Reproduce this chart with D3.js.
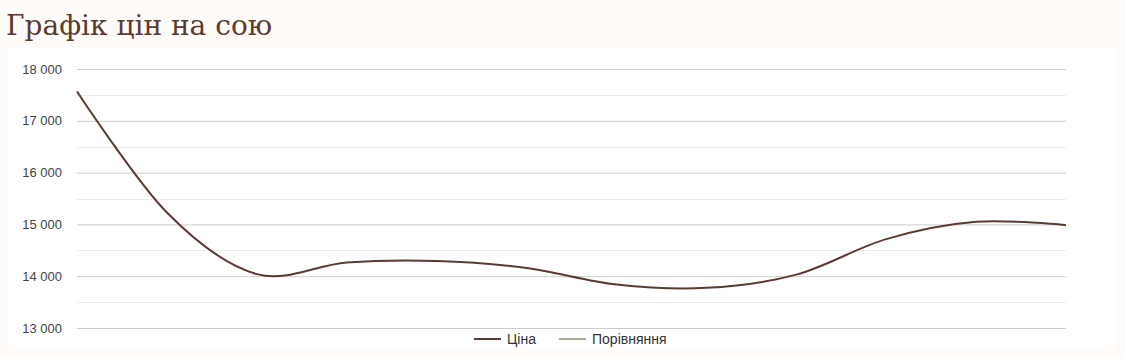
<!DOCTYPE html>
<html>
<head>
<meta charset="utf-8">
<script src="https://cdn.jsdelivr.net/npm/d3@7"></script>
<style>
  body { margin: 0; background: #fffbf8; }
  svg { display: block; }
</style>
</head>
<body>
<svg id="chart"></svg>
<script>
// monthly prices
const months = ["01", "02", "03", "04", "05", "06", "07", "08", "09", "10", "11", "12"];
const prices = [17566, 15230, 14040, 14265, 14295, 14160, 13840, 13775, 14030, 14715, 15050, 14985];
const yTicks = [13000, 14000, 15000, 16000, 17000, 18000];
const minorTicks = [13500, 14500, 15500, 16500, 17500];
const legendItems = ["Ціна", "Порівняння"];
const legendColors = ["#5b3a34", "#a9aa94"];

const W = 1126, H = 358;
const margin = { top: 69, right: 60, bottom: 30, left: 77 };
const width = 1066 - margin.left;
const height = 328 - margin.top;

const svg = d3.select("#chart").attr("width", W).attr("height", H);

svg.append("text")
  .attr("x", 6).attr("y", 35)
  .attr("font-family", "DejaVu Serif")
  .attr("font-size", 28)
  .attr("fill", "#5b3a2f")
  .text("Графік цін на сою");

// white panel
svg.append("rect")
  .attr("x", 7).attr("y", 47)
  .attr("width", 1109).attr("height", 302)
  .attr("fill", "#fff");

const g = svg.append("g").attr("transform", `translate(${margin.left},${margin.top})`);

const x = d3.scalePoint().domain(months).range([0, width]);
const y = d3.scaleLinear().domain([13000, 18000]).range([height, 0]);

const fmt = d3.formatLocale({ decimal: ",", thousands: " ", grouping: [3], currency: ["", ""] }).format(",d");

g.selectAll(".minor")
  .data(minorTicks)
  .enter()
  .append("line")
  .attr("x1", 0).attr("x2", width)
  .attr("y1", d => Math.round(y(d)) + 0.5)
  .attr("y2", d => Math.round(y(d)) + 0.5)
  .attr("stroke", "#ebebeb");

const yAxis = g.append("g")
  .call(d3.axisLeft(y).tickValues(yTicks).tickSize(-width).tickPadding(15).tickFormat(fmt));
yAxis.select(".domain").remove();
yAxis.selectAll(".tick line").attr("stroke", "#cccccc");
yAxis.selectAll(".tick text")
  .attr("font-family", "Liberation Sans, Arial")
  .attr("font-size", 13)
  .attr("fill", "#444");

const line = d3.line()
  .x((d, i) => x(months[i]))
  .y(d => y(d))
  .curve(d3.curveCardinal.tension(0));

g.append("path")
  .datum(prices)
  .attr("fill", "none")
  .attr("stroke", legendColors[0])
  .attr("stroke-width", 2)
  .attr("d", line);

// legend
const legend = svg.append("g").attr("transform", "translate(474, 339)");
const offsets = [0, 85];
legendItems.forEach((name, i) => {
  const row = legend.append("g").attr("transform", `translate(${offsets[i]}, 0)`);
  row.append("line")
    .attr("x1", 0).attr("x2", 27)
    .attr("stroke", legendColors[i])
    .attr("stroke-width", 2);
  row.append("text")
    .attr("x", 33).attr("y", 5)
    .attr("font-family", "Liberation Sans, Arial")
    .attr("font-size", 14)
    .attr("fill", "#333")
    .text(name);
});
</script>
</body>
</html>
